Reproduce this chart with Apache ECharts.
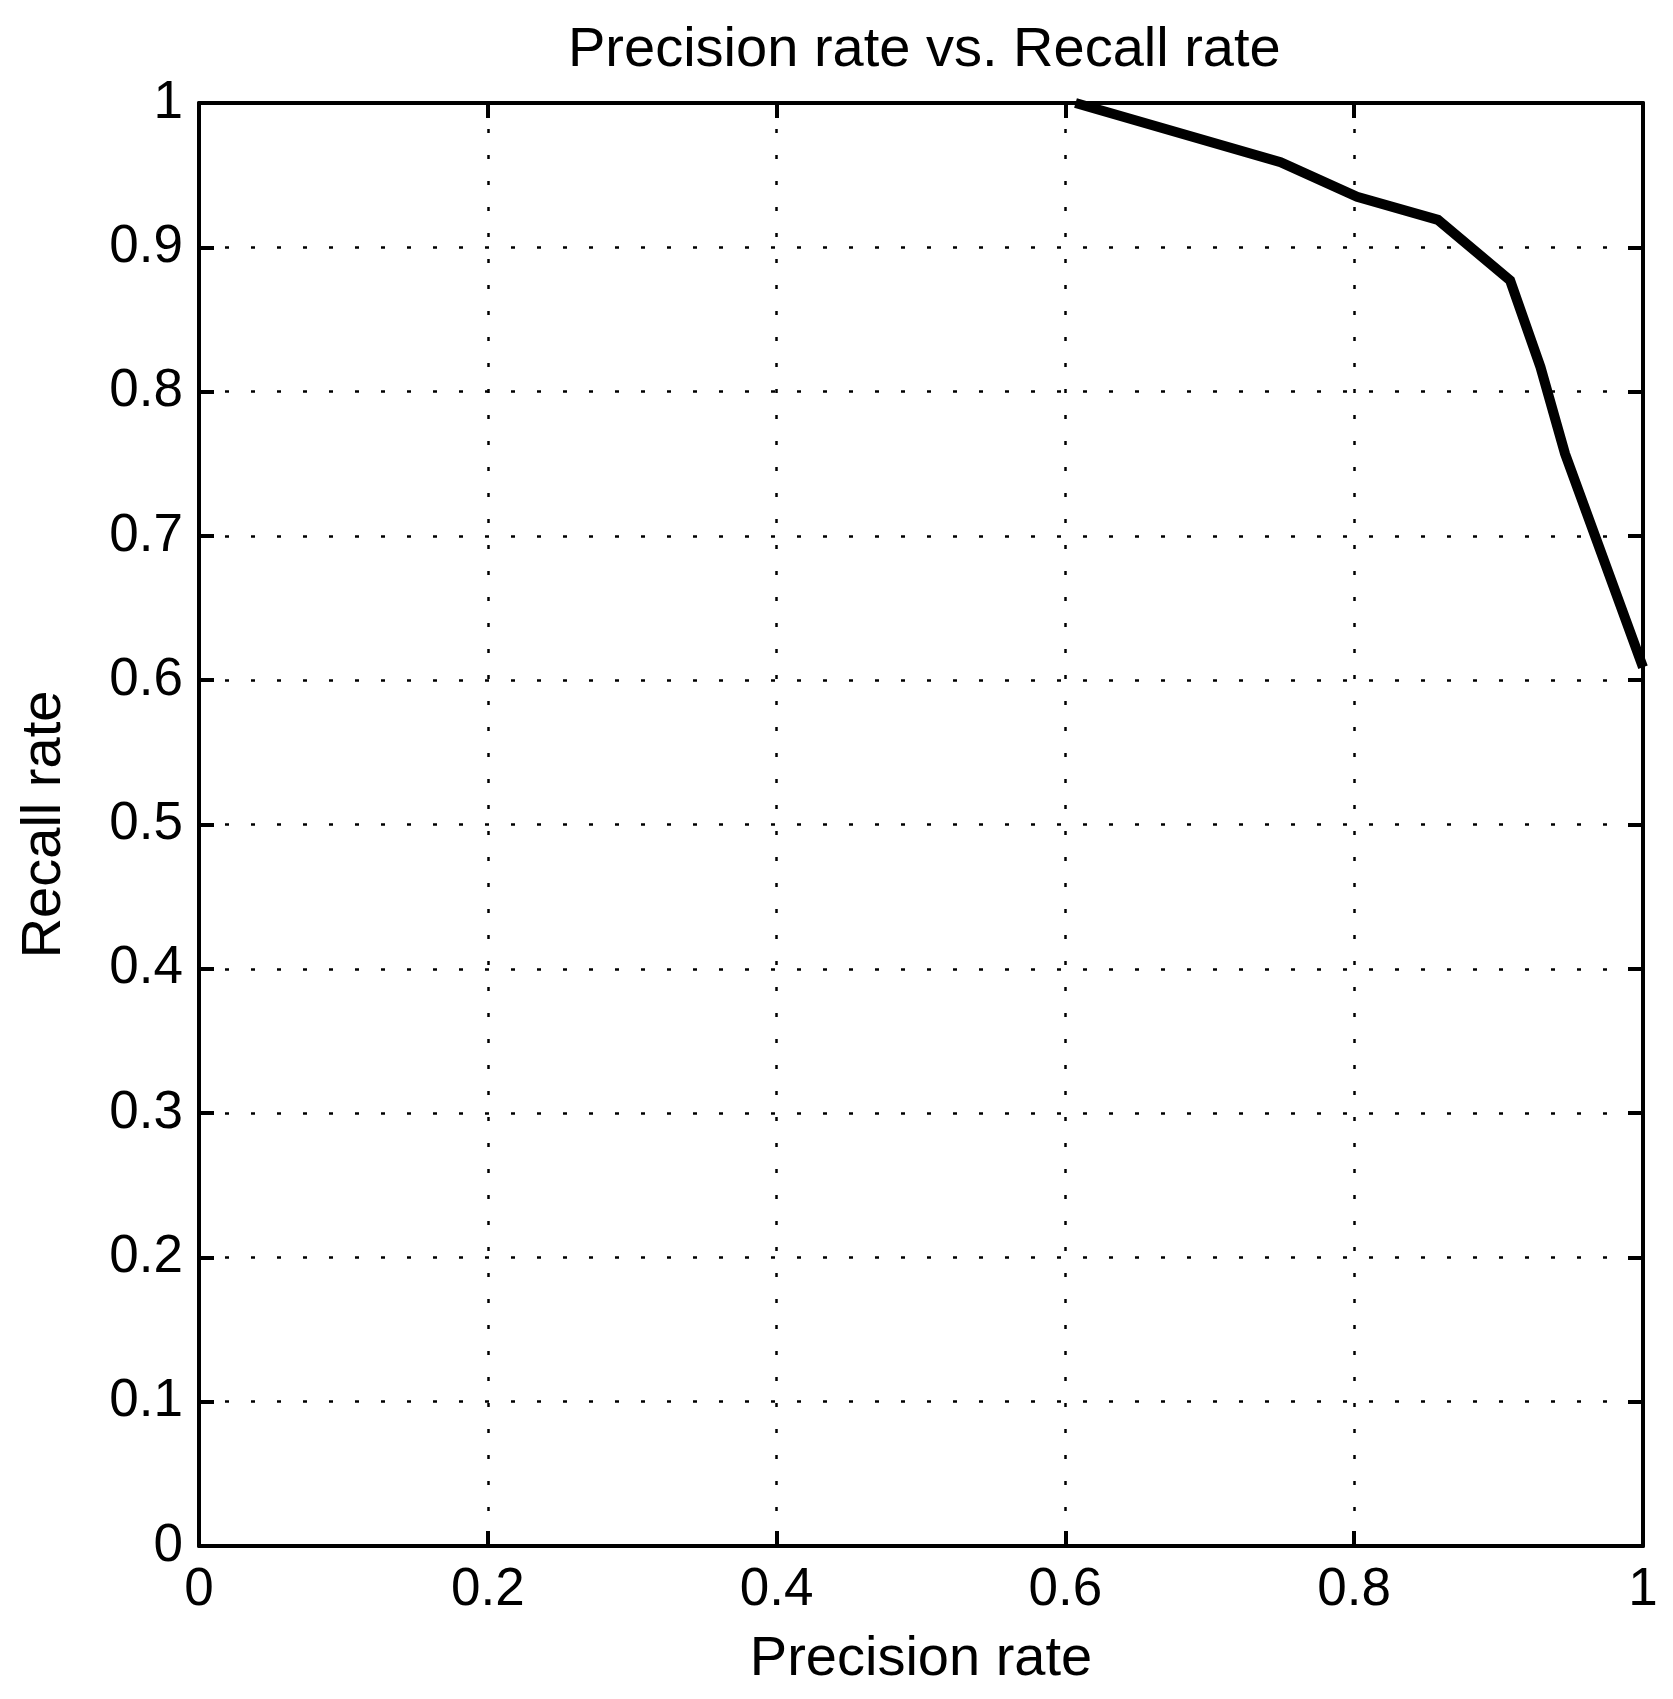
<!DOCTYPE html>
<html>
<head>
<meta charset="utf-8">
<script src="https://cdn.jsdelivr.net/npm/echarts@6/dist/echarts.min.js"></script>
<style>
  html, body { margin: 0; padding: 0; background: #fff; }
  #chart { width: 1673px; height: 1699px; }
</style>
</head>
<body>
<div id="chart"></div>
<script>
const titleText = 'Precision rate vs. Recall rate';
const xName = 'Precision rate';
const yName = 'Recall rate';
const precision = [0.607, 0.749, 0.802, 0.858, 0.908, 0.929, 0.946, 1.0];
const recall    = [1.0,   0.959, 0.935, 0.919, 0.877, 0.817, 0.757, 0.609];

const FONT = 'Liberation Sans, Arial, Helvetica, sans-serif';
const chart = echarts.init(document.getElementById('chart'), null, { renderer: 'canvas' });

const gridDash = { show: true, lineStyle: { color: '#000', width: 2.5, type: [4, 22] } };
const axLine = { show: true, onZero: false, lineStyle: { color: '#000', width: 4 } };
const axTick = { show: true, inside: true, length: 15, lineStyle: { color: '#000', width: 4 } };

chart.setOption({
  animation: false,
  backgroundColor: '#fff',
  title: {
    text: titleText,
    left: 563,
    top: 18,
    textStyle: { fontFamily: FONT, fontSize: 56, fontWeight: 'normal', color: '#000' }
  },
  grid: { left: 199, top: 103, right: 30, bottom: 153, containLabel: false },
  xAxis: [
    {
      type: 'value', min: 0, max: 1, interval: 0.2, position: 'bottom',
      name: xName, nameLocation: 'middle', nameGap: 86,
      nameTextStyle: { fontFamily: FONT, fontSize: 56, color: '#000' },
      axisLine: axLine, axisTick: axTick,
      axisLabel: { fontFamily: FONT, fontSize: 53, color: '#000', margin: 18 },
      splitLine: gridDash
    },
    {
      type: 'value', min: 0, max: 1, interval: 0.2, position: 'top',
      axisLine: axLine, axisTick: axTick,
      axisLabel: { show: false }, splitLine: { show: false }
    }
  ],
  yAxis: [
    {
      type: 'value', min: 0, max: 1, interval: 0.1, position: 'left',
      name: yName, nameLocation: 'middle', nameGap: 126,
      nameTextStyle: { fontFamily: FONT, fontSize: 56, color: '#000' },
      axisLine: axLine, axisTick: axTick,
      axisLabel: { fontFamily: FONT, fontSize: 53, color: '#000', margin: 16 },
      splitLine: gridDash
    },
    {
      type: 'value', min: 0, max: 1, interval: 0.1, position: 'right',
      axisLine: axLine, axisTick: axTick,
      axisLabel: { show: false }, splitLine: { show: false }
    }
  ],
  series: [
    {
      type: 'line',
      xAxisIndex: 0, yAxisIndex: 0,
      data: precision.map((p, i) => [p, recall[i]]),
      showSymbol: false,
      clip: false,
      lineStyle: { color: '#000', width: 10, join: 'miter' }
    }
  ]
});
</script>
</body>
</html>
